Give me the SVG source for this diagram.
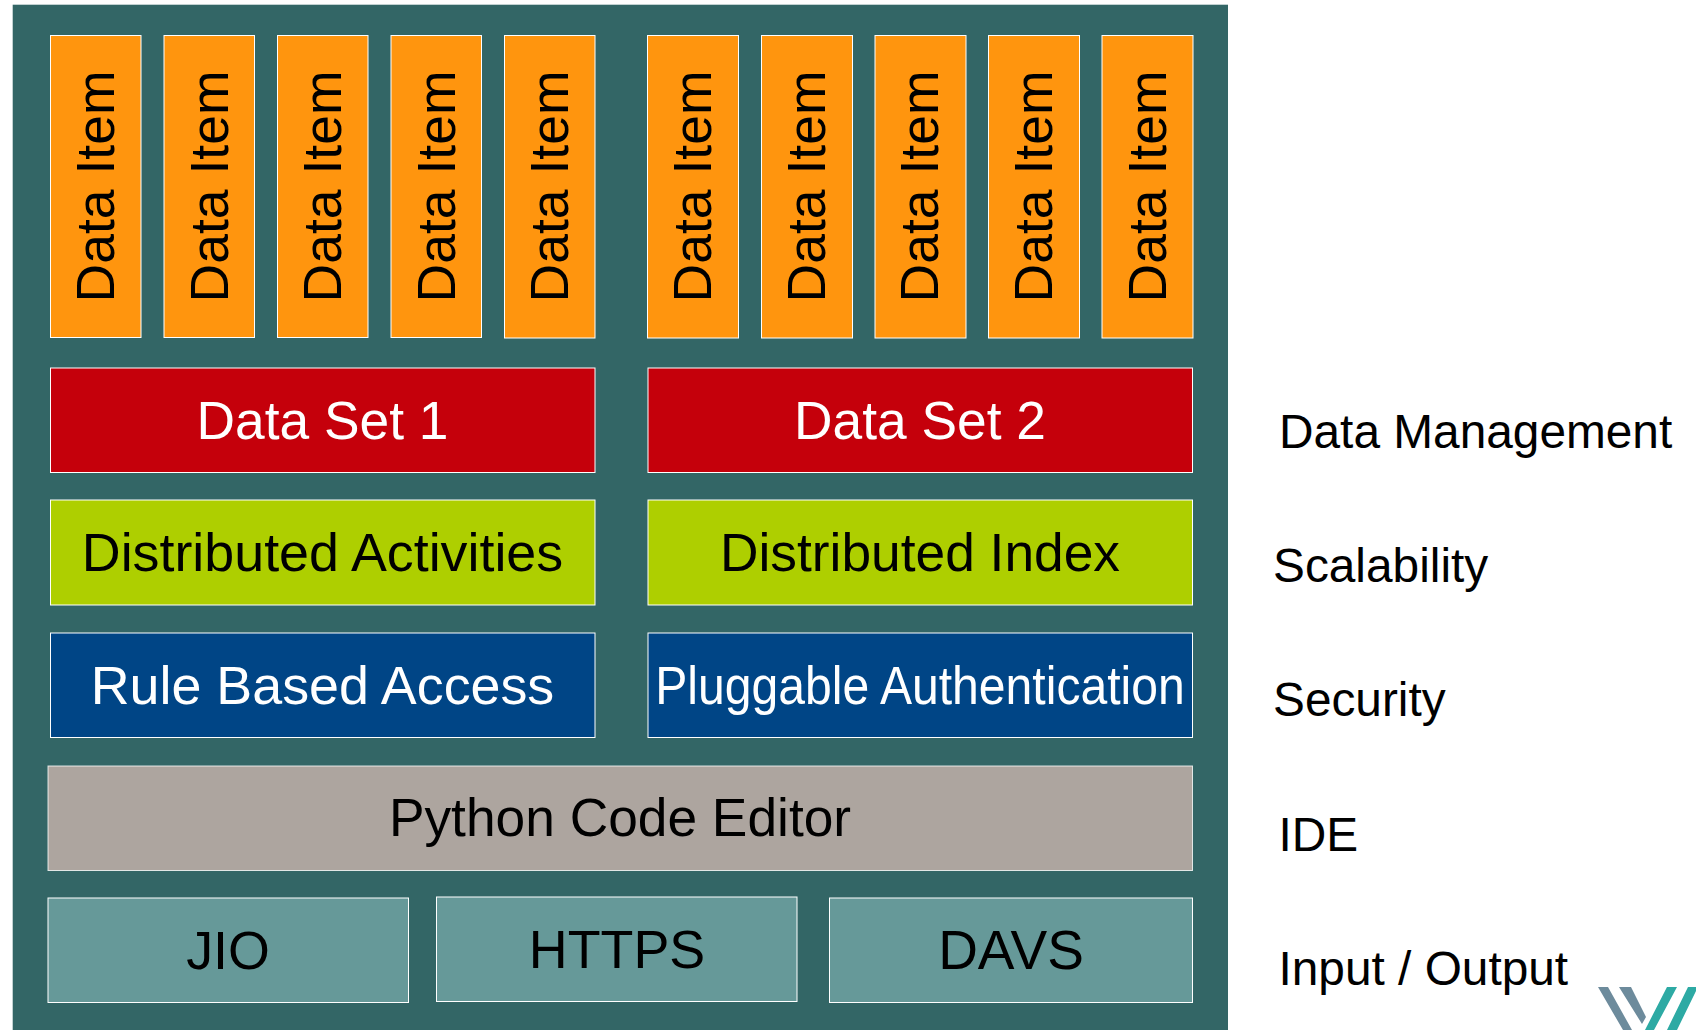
<svg xmlns="http://www.w3.org/2000/svg" width="1696" height="1030" viewBox="0 0 1696 1030">
<style>
text{font-family:"Liberation Sans",Arial,sans-serif;font-size:53.3px;text-anchor:middle;fill:#000}
.box{stroke:#fff;stroke-width:1}
.w{fill:#fff}
.item{fill:#ff950e}
.set{fill:#c5000b}
.dist{fill:#aecf00}
.sec{fill:#004586}
.io{fill:#669999}
.wide{font-size:53.8px}
.lab{font-size:47.8px;text-anchor:start}
</style>
<rect id="background" x="12.700" y="4.700" width="1215.300" height="1025.300" fill="#336666"/>
<g id="items">
<g id="item1"><rect class="box item" x="50.500" y="35.500" width="90.500" height="302"/><text style="font-size:53.500px" transform="translate(114,186.500) rotate(-90)">Data Item</text></g>
<g id="item2"><rect class="box item" x="164" y="35.500" width="90.500" height="302"/><text style="font-size:53.500px" transform="translate(227.500,186.500) rotate(-90)">Data Item</text></g>
<g id="item3"><rect class="box item" x="277.500" y="35.500" width="90.500" height="302"/><text style="font-size:53.500px" transform="translate(341,186.500) rotate(-90)">Data Item</text></g>
<g id="item4"><rect class="box item" x="391" y="35.500" width="90.500" height="302"/><text style="font-size:53.500px" transform="translate(454.500,186.500) rotate(-90)">Data Item</text></g>
<g id="item5"><rect class="box item" x="504.500" y="35.500" width="90.500" height="302.500"/><text style="font-size:53.500px" transform="translate(568,186.500) rotate(-90)">Data Item</text></g>
<g id="item6"><rect class="box item" x="647.500" y="35.500" width="91" height="302.500"/><text style="font-size:53.500px" transform="translate(711,186.500) rotate(-90)">Data Item</text></g>
<g id="item7"><rect class="box item" x="761.500" y="35.500" width="91" height="302.500"/><text style="font-size:53.500px" transform="translate(824.500,186.500) rotate(-90)">Data Item</text></g>
<g id="item8"><rect class="box item" x="875" y="35.500" width="91" height="302.500"/><text style="font-size:53.500px" transform="translate(938,186.500) rotate(-90)">Data Item</text></g>
<g id="item9"><rect class="box item" x="988.500" y="35.500" width="91" height="302.500"/><text style="font-size:53.500px" transform="translate(1051.500,186.500) rotate(-90)">Data Item</text></g>
<g id="item10"><rect class="box item" x="1102" y="35.500" width="91" height="302.500"/><text style="font-size:53.500px" transform="translate(1165.500,186.500) rotate(-90)">Data Item</text></g>
</g>
<g id="set1"><rect class="box set" x="50.500" y="368" width="544.500" height="104.500"/><text class="w" x="322.500" y="439">Data Set 1</text></g>
<g id="set2"><rect class="box set" x="648" y="368" width="544.500" height="104.500"/><text class="w" x="920" y="439">Data Set 2</text></g>
<g id="dist1"><rect class="box dist" x="50.500" y="500" width="544.500" height="105"/><text class="wide" x="322.500" y="571">Distributed Activities</text></g>
<g id="dist2"><rect class="box dist" x="648" y="500" width="544.500" height="105"/><text x="920" y="571">Distributed Index</text></g>
<g id="rule"><rect class="box sec" x="50.500" y="633" width="544.500" height="104.500"/><text class="w wide" x="322.500" y="703.500">Rule Based Access</text></g>
<g id="auth"><rect class="box sec" x="648" y="633" width="544.500" height="104.500"/><text class="w" x="920" y="703.500" textLength="529.500" lengthAdjust="spacingAndGlyphs">Pluggable Authentication</text></g>
<g id="editor"><rect class="box" fill="#ada59f" stroke-opacity=".8" x="48" y="766" width="1144.500" height="104.500"/><text x="620" y="836">Python Code Editor</text></g>
<g id="jio"><rect class="box io" x="48" y="898" width="360.500" height="104.500"/><text class="wide" x="228" y="968.500">JIO</text></g>
<g id="https"><rect class="box io" x="436.500" y="897" width="360.500" height="104.500"/><text class="wide" x="617" y="967.500">HTTPS</text></g>
<g id="davs"><rect class="box io" x="829.500" y="898" width="363" height="104.500"/><text style="font-size:55px" x="1011" y="968.500">DAVS</text></g>
<g id="labels">
<text class="lab" x="1279" y="448">Data Management</text>
<text class="lab" x="1273" y="582">Scalability</text>
<text class="lab" x="1273" y="716">Security</text>
<text class="lab" x="1278.500" y="851">IDE</text>
<text class="lab" x="1278.500" y="985">Input / Output</text>
</g>
<g id="logo">
<path d="M1598 987h10l24 43h-9z M1619 987h12l15 30-4 7z" fill="#6d8b9c"/>
<path d="M1667 987h10l-23 43h-9z M1688 987h8v4l-19 39h-10z" fill="#2daaa4"/>
</g>
</svg>
